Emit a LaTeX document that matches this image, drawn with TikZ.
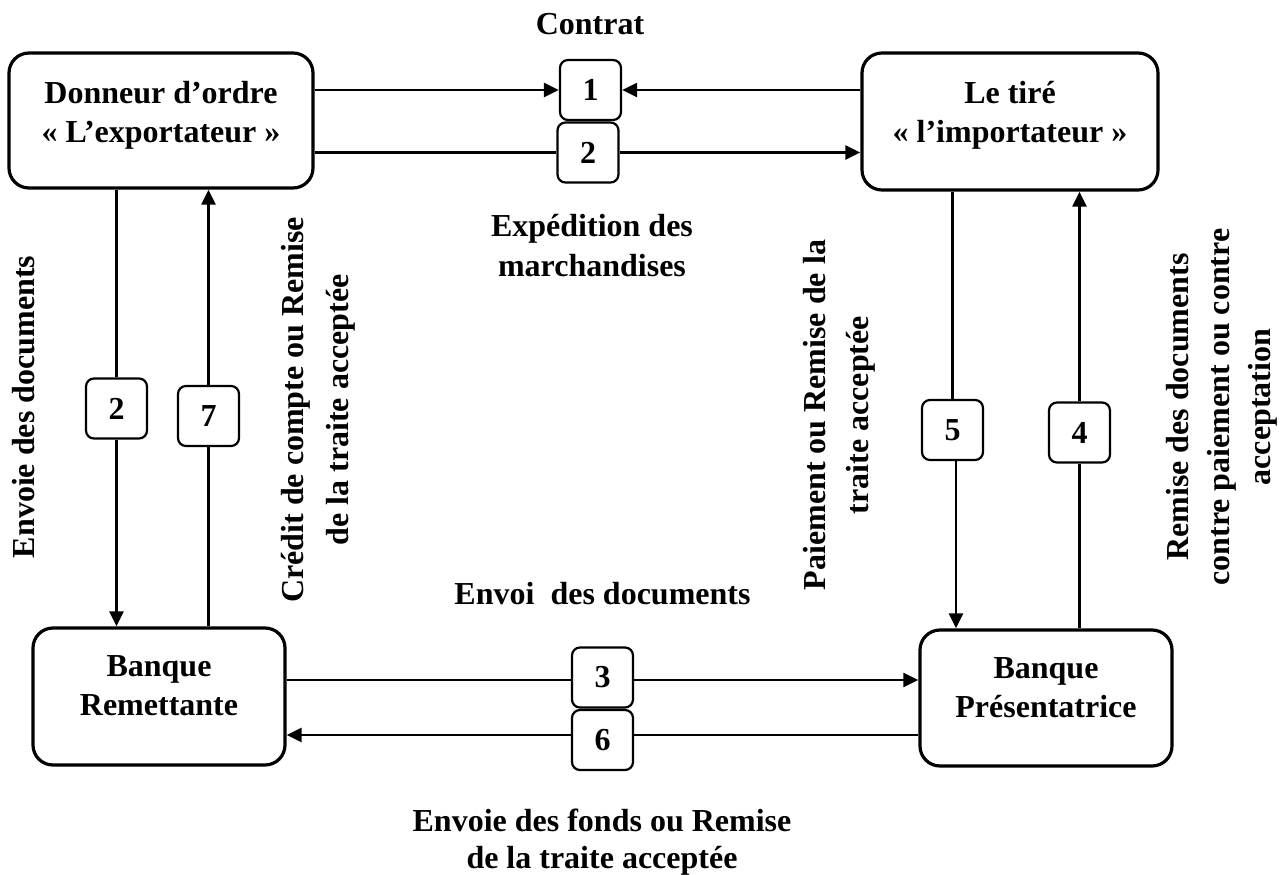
\documentclass[tikz,border=0pt]{standalone}
\usepackage{fontspec}
\setmainfont{Liberation Serif}
\usetikzlibrary{arrows.meta,calc}

\tikzset{
  bigbox/.style={draw, line width=3.2pt, rounded corners=20pt, inner sep=0pt},
  numbox/.style={draw, line width=2.2pt, rounded corners=8pt, minimum width=61pt,
    minimum height=60pt, inner sep=0pt, font=\fontsize{32}{38}\selectfont\bfseries},
  lbl/.style={align=center, inner sep=0pt, font=\fontsize{32}{#1}\selectfont\bfseries},
  lbl/.default=39,
  conn/.style={line width=2.8pt},
  arr/.style={conn, -{Triangle[length=15pt,width=14pt]}},
}

\begin{document}
\begin{tikzpicture}[x=1pt,y=-1pt]
\useasboundingbox[fill=white] (0,0) rectangle (1286,875);

% main parties
\node[bigbox, minimum width=304pt, minimum height=135pt] (don)  at (161,120.5) {};
\node[bigbox, minimum width=296pt, minimum height=137pt] (tire) at (1010,121.5) {};
\node[bigbox, minimum width=252pt, minimum height=137pt] (rem)  at (159,696.5) {};
\node[bigbox, minimum width=252pt, minimum height=136pt] (pres) at (1046,698) {};

\node[lbl] (dontxt)  at (161,115)   {Donneur d’ordre\\« L’exportateur »};
\node[lbl] (tiretxt) at (1010,115)  {Le tiré\\« l’importateur »};
\node[lbl] (remtxt)  at (159,686)   {Banque\\Remettante};
\node[lbl] (prestxt) at (1046,688)  {Banque\\Présentatrice};

% step numbers
\node[numbox] (b1)  at (590.5,90)    {1};
\node[numbox] (b2)  at (588,152.5)   {2};
\node[numbox] (bl2) at (116.5,408.5) {2};
\node[numbox] (b7)  at (208.5,416)   {7};
\node[numbox] (b5)  at (952.5,430)   {5};
\node[numbox] (b4)  at (1079.5,432.5){4};
\node[numbox] (b3)  at (602.5,677.5) {3};
\node[numbox] (b6)  at (602.5,740)   {6};

% top flows
\draw[arr] (don.east |- b1.west) -- (b1.west);
\draw[arr] (tire.west |- b1.east) -- (b1.east);
\draw[conn] (don.east |- b2.west) -- (b2.west);
\draw[arr] (b2.east) -- (tire.west |- b2.east);

% left flows
\draw[conn] (don.south -| bl2.north) -- (bl2.north);
\draw[arr] (bl2.south) -- (rem.north -| bl2.south);
\draw[conn] (rem.north -| b7.south) -- (b7.south);
\draw[arr] (b7.north) -- (don.south -| b7.north);

% right flows
\draw[conn] (tire.south -| b5.north) -- (b5.north);
\draw[arr] ($(b5.south)+(3.5,0)$) -- ($(pres.north -| b5.south)+(3.5,0)$);
\draw[conn] (pres.north -| b4.south) -- (b4.south);
\draw[arr] (b4.north) -- (tire.south -| b4.north);

% bottom flows
\draw[conn] ($(rem.east |- b3.west)+(0,2.5)$) -- ($(b3.west)+(0,2.5)$);
\draw[arr] ($(b3.east)+(0,2.5)$) -- ($(pres.west |- b3.east)+(0,2.5)$);
\draw[conn] ($(pres.west |- b6.east)+(0,-5)$) -- ($(b6.east)+(0,-5)$);
\draw[arr] ($(b6.west)+(0,-5)$) -- ($(rem.east |- b6.west)+(0,-5)$);

% flow labels
\node[lbl] (contrat) at (590,24) {Contrat};
\node[lbl=40] (exped) at (592,246) {Expédition des\\marchandises};
\node[lbl] (envdoc) at (602.5,594) {Envoi\ \ des documents};
\node[lbl=37] (envfonds) at (602,842) {Envoie des fonds ou Remise\\de la traite acceptée};
\node[lbl, rotate=90] (envoie) at (24,407) {Envoie des documents};
\node[lbl=45, rotate=90] (credit) at (318,410) {Crédit de compte ou Remise\\de la traite acceptée};
\node[lbl=43, rotate=90] (paie) at (839,415) {Paiement ou Remise de la\\traite acceptée};
\node[lbl=41, rotate=90] (remdoc) at (1222,407) {Remise des documents\\contre paiement ou contre\\acceptation};
\end{tikzpicture}
\end{document}
